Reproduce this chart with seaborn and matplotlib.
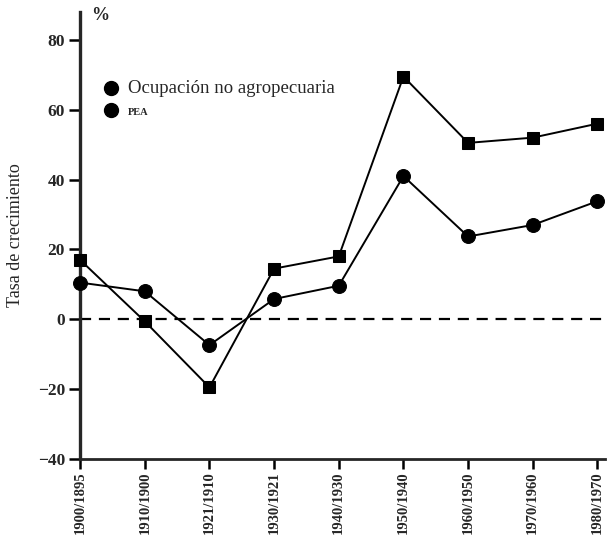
import pandas as pd
import numpy as np
import matplotlib
matplotlib.use("Agg")
import matplotlib.pyplot as plt
from matplotlib.lines import Line2D
import seaborn as sns

# Periods on x axis
periodos = ["1900/1895", "1910/1900", "1921/1910", "1930/1921", "1940/1930",
            "1950/1940", "1960/1950", "1970/1960", "1980/1970"]

# Growth rates (%)
ocupacion = [17.0, -0.6, -19.5, 14.5, 18.0, 69.5, 50.5, 52.0, 56.0]
pea = [10.5, 8.0, -7.4, 5.8, 9.6, 41.0, 23.7, 27.0, 33.8]

df = pd.DataFrame({
    "periodo": periodos * 2,
    "tasa": ocupacion + pea,
    "serie": ["Ocupación no agropecuaria"] * len(periodos) + ["PEA"] * len(periodos),
})

sns.set_style("ticks")
plt.rcParams['font.family'] = ['Liberation Serif', 'DejaVu Serif']

fig = plt.figure(figsize=(6.07, 5.41), dpi=100)
ax = fig.add_axes([0.132, 0.1516, 0.865, 0.8264])

# Zero reference line
ax.axhline(0, color="black", lw=1.6, ls=(0, (5, 3.5)), zorder=1)

sns.lineplot(data=df[df["serie"] == "Ocupación no agropecuaria"], x="periodo", y="tasa",
             color="black", lw=1.4, marker="s", markersize=9, markeredgecolor="black",
             legend=False, ax=ax, clip_on=False, zorder=3)
sns.lineplot(data=df[df["serie"] == "PEA"], x="periodo", y="tasa",
             color="black", lw=1.4, marker="o", markersize=10, markeredgecolor="black",
             legend=False, ax=ax, clip_on=False, zorder=3)

ax.set_ylim(-40, 88)
ax.set_xlim(0, 8.12)
ax.set_yticks([-40, -20, 0, 20, 40, 60, 80])
ax.set_yticklabels(["\u221240", "\u221220", "0", "20", "40", "60", "80"],
                   fontsize=12.5, fontweight="bold")
ax.set_xticks(range(len(periodos)))
ax.set_xticklabels(periodos, rotation=90, fontsize=10.5, fontweight="bold")

ax.spines["top"].set_visible(False)
ax.spines["right"].set_visible(False)
ax.spines["left"].set_linewidth(2.4)
ax.spines["bottom"].set_linewidth(2.0)
ax.tick_params(axis="y", direction="out", length=8, width=1.8, color="black", pad=3)
ax.tick_params(axis="x", direction="out", length=7, width=1.8, color="black", pad=2)

ax.set_xlabel("")
ax.set_ylabel("Tasa de crecimiento", fontsize=13, labelpad=10)
ax.text(0.17, 87, "%", fontsize=13, fontweight="bold", va="center", ha="left")

# Legend (as printed, both markers are circles)
handles = [
    Line2D([], [], marker="o", color="black", ls="none", markersize=10),
    Line2D([], [], marker="o", color="black", ls="none", markersize=10),
]
leg = ax.legend(handles, ["Ocupación no agropecuaria", "PEA"], loc="upper left",
                bbox_to_anchor=(0.02, 0.875), frameon=False, handletextpad=0.6,
                labelspacing=0.6, handlelength=1.2)
leg.get_texts()[0].set_fontsize(13.5)
leg.get_texts()[1].set_fontsize(7.5)
leg.get_texts()[1].set_fontweight("bold")

plt.savefig("out.png", dpi=100)
